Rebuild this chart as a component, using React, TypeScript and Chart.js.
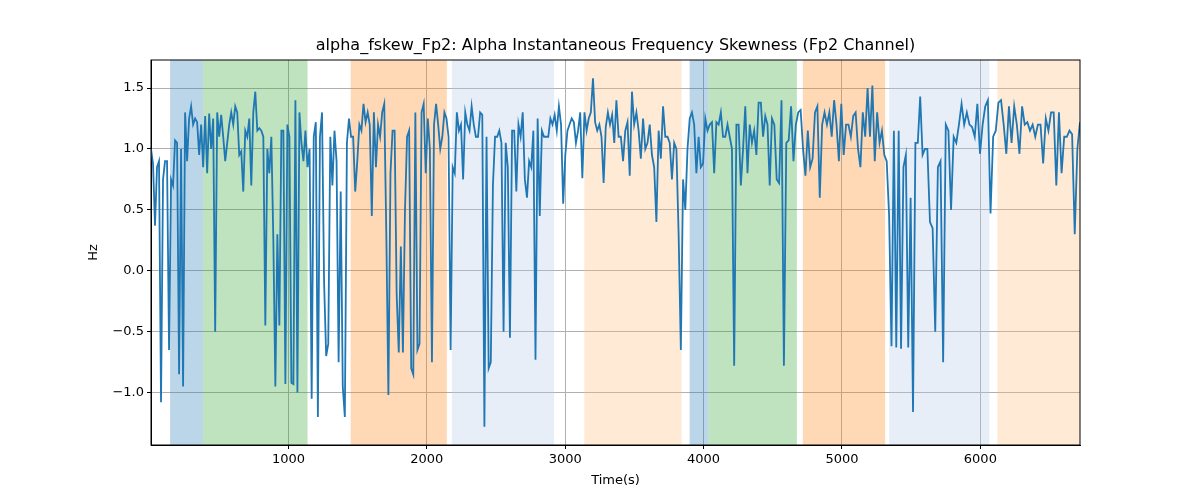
import React, { useEffect, useRef } from "react";
import { Chart, registerables } from "chart.js";
Chart.register(...registerables);

const segBounds = [7, 1123, 2247, 3370, 4494, 5617, 6720];
const seg1 = [1.0, 0.88, 0.37, 0.85, 0.9, -1.08, 0.75, 0.9, 0.9, -0.65, 0.75, 0.7, 1.07, 1.05, -0.85, 1.0, -0.95, 1.3, 0.9, 1.25, 1.35, 1.2, 1.25, 1.22, 0.95, 1.2, 0.85, 1.27, 0.8, 1.29, 1.0, 1.25, -0.5, 1.3, 1.1, 1.28, 1.1, 0.9, 1.05, 1.2, 1.3, 1.2, 1.35, 1.3, 0.95, 0.98, 0.65, 1.15, 1.1, 1.25, 0.7, 1.3, 1.47, 1.15, 1.17, 1.15, 1.1, -0.45, 1.0, 0.8, 1.1, 0.25, -0.95, 0.3, -0.45, 1.15, 1.15, -0.93, 1.2, 1.1, -0.92, -0.93, 1.4, -1.0, 1.3, 1.05, 0.9];
const seg2 = [1.15, 0.85, 1.0, -1.05, 1.1, 1.22, -1.2, 1.1, 1.3, -0.1, -0.7, -0.6, 1.1, 0.7, 1.15, 0.9, -0.75, 0.65, -0.95, -1.2, 1.05, 1.25, 1.1, 1.1, 0.65, 0.9, 1.2, 1.15, 1.37, 1.22, 1.3, 1.2, 0.45, 1.3, 0.85, 1.2, 1.1, 1.3, 1.37, 0.3, -1.02, 0.8, 1.15, 1.15, -0.2, -0.67, 0.2, -0.67, 0.5, 1.1, 1.15, -0.8, -0.85, 1.3, -0.65, -0.6, 1.3, 1.37, 0.8, 1.25, 1.0, -0.75, 1.2, 1.37, 1.2, 1.0, 1.1, 1.3, 1.25, 1.1, -0.65, 0.85, 0.8, 1.3, 1.15];
const seg3 = [1.2, 0.75, 1.3, 1.2, 1.15, 1.35, 1.2, 1.1, 1.1, 1.3, 1.28, -1.28, 1.1, -0.8, -0.75, 0.7, 1.1, 1.1, 1.15, 1.05, -0.5, 1.05, 0.85, -0.55, 1.15, 1.15, 0.65, 1.2, 1.1, 1.3, 0.75, 0.6, 0.9, 0.85, 1.15, -0.73, 1.25, 0.45, 1.15, 1.1, 1.1, 1.1, 1.25, 1.2, 1.28, 1.15, 1.35, 1.2, 0.55, 0.95, 1.15, 1.2, 1.25, 1.22, 1.05, 1.15, 1.3, 0.76, 1.3, 1.15, 1.25, 1.3, 1.58, 1.22, 1.15, 1.2, 1.1, 0.72, 1.18, 1.3, 1.2, 1.28, 1.05];
const seg4 = [1.4, 1.1, 1.1, 0.9, 1.15, 1.22, 0.78, 1.47, 1.2, 1.3, 1.15, 0.92, 1.25, 1.0, 1.05, 1.2, 0.95, 0.85, 0.4, 1.15, 0.92, 1.35, 1.1, 1.1, 1.05, 0.75, 1.05, 1.0, 0.3, -0.65, 0.75, 0.5, 1.0, 1.25, 1.3, 1.2, 0.8, 1.1, 0.85, 0.88, 1.25, 1.15, 1.2, 1.22, 0.8, 1.22, 1.2, 1.3, 1.1, 1.1, 1.2, 1.1, 1.0, -0.78, 1.2, 1.2, 0.7, 1.0, 1.35, 0.8, 1.2, 1.05, 1.15, 0.95, 1.38, 1.38, 1.1, 1.27, 1.2, 0.7];
const seg5 = [1.25, 1.2, 0.75, 0.72, 1.4, -0.78, 1.05, 1.07, 1.35, 0.9, 1.2, 1.3, 1.32, 1.0, 0.78, 1.15, 0.85, 0.92, 1.3, 1.35, 0.6, 1.2, 1.3, 1.2, 1.3, 1.1, 1.4, 1.2, 0.9, 1.37, 0.95, 1.2, 1.2, 1.1, 1.27, 1.3, 1.0, 0.85, 1.3, 1.1, 1.5, 1.1, 1.52, 0.9, 1.3, 1.05, 1.15, 0.95, 0.9, 0.45, -0.62, 1.15, -0.63, 1.15, -0.64, 0.85, 0.95, -0.63, 0.6, -1.16, 1.05, 1.05, 1.43, 0.95, 1.0];
const seg6 = [1.0, 0.4, 0.35, -0.5, 0.85, 0.9, -0.75, 1.2, 1.15, 0.5, 1.1, 1.05, 1.2, 1.37, 1.2, 1.3, 1.2, 1.18, 1.1, 1.37, 0.96, 1.2, 1.35, 1.4, 0.47, 1.1, 1.15, 1.38, 1.4, 1.2, 0.96, 1.35, 1.05, 1.35, 1.2, 0.96, 1.35, 1.2, 1.22, 1.15, 1.2, 1.1, 1.2, 1.2, 0.88, 1.25, 1.15, 1.3, 1.3, 0.7, 1.3, 0.8, 1.1, 1.1, 1.15, 1.12, 0.3, 1.0, 1.22];
const segments = [seg1, seg2, seg3, seg4, seg5, seg6];

const spanStarts = [145, 384, 1450, 2181, 3138, 3899, 4036, 4717, 5341, 6123];
const spanEnds = [384, 1138, 2145, 2920, 3841, 4036, 4674, 5312, 6065, 6740];
const spanColors = [
  "rgba(31,119,180,0.3)", "rgba(44,160,44,0.3)", "rgba(255,127,14,0.3)", "rgba(174,199,232,0.3)", "rgba(255,187,120,0.3)",
  "rgba(31,119,180,0.3)", "rgba(44,160,44,0.3)", "rgba(255,127,14,0.3)", "rgba(174,199,232,0.3)", "rgba(255,187,120,0.3)",
];
const xTicks = [1000, 2000, 3000, 4000, 5000, 6000];
const yTicks = [-1.0, -0.5, 0.0, 0.5, 1.0, 1.5];

const FONT = "'DejaVu Sans', sans-serif";

export default function App() {
  const ref = useRef<HTMLCanvasElement>(null);
  useEffect(() => {
    const pts: { x: number; y: number }[] = [];
    segments.forEach((s, i) => {
      const a = segBounds[i], b = segBounds[i + 1];
      const last = i === segments.length - 1;
      s.forEach((v, j) => {
        const t = last ? j / (s.length - 1) : j / s.length;
        pts.push({ x: a + (b - a) * t, y: v });
      });
    });
    const deco = {
      id: "deco",
      beforeDatasetsDraw(c: any) {
        const { ctx, chartArea: ca, scales } = c;
        ctx.save();
        ctx.beginPath();
        ctx.rect(ca.left, ca.top, ca.right - ca.left, ca.bottom - ca.top);
        ctx.clip();
        spanStarts.forEach((s, i) => {
          const x0 = scales.x.getPixelForValue(s), x1 = scales.x.getPixelForValue(spanEnds[i]);
          ctx.fillStyle = spanColors[i];
          ctx.fillRect(x0, ca.top, x1 - x0, ca.bottom - ca.top);
        });
        ctx.restore();
      },
      afterDraw(c: any) {
        const { ctx, chartArea: ca } = c;
        ctx.save();
        ctx.strokeStyle = "#000";
        ctx.lineWidth = 1;
        ctx.strokeRect(ca.left, ca.top, ca.right - ca.left, ca.bottom - ca.top);
        ctx.fillStyle = "#000";
        ctx.textAlign = "center";
        ctx.textBaseline = "middle";
        ctx.font = `16px ${FONT}`;
        ctx.fillText("alpha_fskew_Fp2: Alpha Instantaneous Frequency Skewness (Fp2 Channel)", (ca.left + ca.right) / 2, 46);
        ctx.font = `13px ${FONT}`;
        ctx.fillText("Time(s)", (ca.left + ca.right) / 2, 481);
        ctx.translate(94, (ca.top + ca.bottom) / 2);
        ctx.rotate(-Math.PI / 2);
        ctx.fillText("Hz", 0, 0);
        ctx.restore();
      },
    };
    const chart = new Chart(ref.current!, {
      type: "line",
      data: { datasets: [{ data: pts, borderColor: "#1f77b4", borderWidth: 1.8, pointRadius: 0, tension: 0 }] },
      options: {
        animation: false,
        responsive: false,
        layout: { padding: { top: 60, right: 120, left: 0, bottom: 0 } },
        plugins: { legend: { display: false }, tooltip: { enabled: false } },
        scales: {
          x: {
            type: "linear", min: 7, max: 6720,
            afterBuildTicks: (s: any) => { s.ticks = xTicks.map((v) => ({ value: v })); },
            afterFit: (s: any) => { s.height = 55; },
            grid: { color: "#b0b0b0", tickColor: "#000", tickLength: 4 },
            border: { color: "#000" },
            ticks: { color: "#000", font: { family: FONT, size: 13 }, maxRotation: 0, padding: 3, callback: (v: any) => String(v) },
          },
          y: {
            type: "linear", min: -1.43, max: 1.73,
            afterBuildTicks: (s: any) => { s.ticks = yTicks.map((v) => ({ value: v })); },
            afterFit: (s: any) => { s.width = 151; },
            grid: { color: "#b0b0b0", tickColor: "#000", tickLength: 4 },
            border: { color: "#000" },
            ticks: { color: "#000", font: { family: FONT, size: 13 }, padding: 3, callback: (v: any) => (v < 0 ? "\u2212" : "") + Math.abs(Number(v)).toFixed(1) },
          },
        },
      },
      plugins: [deco],
    });
    return () => chart.destroy();
  }, []);
  return (
    <div style={{ position: "absolute", left: 0, top: 0, width: 1200, height: 500, background: "#fff" }}>
      <canvas ref={ref} width={1200} height={500} />
    </div>
  );
}
